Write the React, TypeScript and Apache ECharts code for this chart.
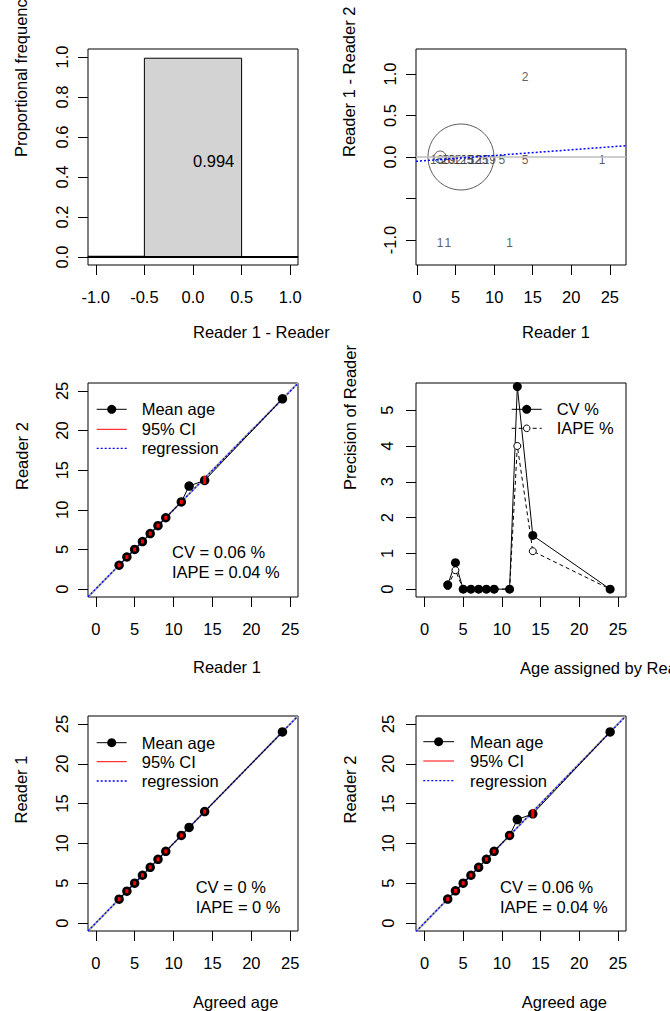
import React, { useEffect, useRef } from "react";
import * as echarts from "echarts";

const FONT = '"Liberation Sans", Arial, Helvetica, sans-serif';
const FS = 16.5;

// ---------------- data ----------------
// Histogram of Reader 1 - Reader 2 differences
const diffBinStart = [-1.5, -0.5, 0.5];
const diffBinEnd = [-0.5, 0.5, 1.5];
const diffProportion = [0.0037, 0.9939, 0.0024];

// Counts of fish by Reader 1 age and difference (Reader 1 - Reader 2)
const countAge = [3, 4, 5, 6, 7, 8, 9, 11, 14, 24, 3, 4, 12, 14];
const countDiff = [0, 0, 0, 0, 0, 0, 0, 0, 0, 0, -1, -1, -1, 1];
const countN = [168, 20, 92, 125, 152, 125, 119, 5, 5, 1, 1, 1, 1, 2];

// Circles drawn on the difference plot
const circleAge = [3, 5.7];
const circleDiff = [0, 0];
const circleSize = [12, 66];

// Regression of difference on Reader 1
const diffRegIntercept = -0.051;
const diffRegSlope = 0.0069;

// Ages and mean ages
const ages = [3, 4, 5, 6, 7, 8, 9, 11, 12, 14, 24];
const reader2Mean = [3.006, 4.048, 5, 6, 7, 8, 9, 11, 13, 13.714, 24];
const reader2CiLow = [3.0, 4.0, 5, 6, 7, 8, 9, 11, null, 13.25, null];
const reader2CiHigh = [3.012, 4.1, 5, 6, 7, 8, 9, 11, null, 14.3, null];
const reader1Mean = [3, 4, 5, 6, 7, 8, 9, 11, 12, 14, 24];
const reader1CiLow = [3, 4, 5, 6, 7, 8, 9, 11, null, 14, null];
const reader1CiHigh = [3, 4, 5, 6, 7, 8, 9, 11, null, 14, null];

// Precision by age
const cvPercent = [0.12, 0.74, 0, 0, 0, 0, 0, 0, 5.66, 1.5, 0];
const iapePercent = [0.085, 0.53, 0, 0, 0, 0, 0, 0, 4.0, 1.06, 0];

// Regressions of age plots
const reg2Intercept = 0.03;
const reg2Slope = 0.997;
const reg1Intercept = 0;
const reg1Slope = 1;

// Tick values
const histXTicks = [-1, -0.5, 0, 0.5, 1];
const histYTicks = [0, 0.2, 0.4, 0.6, 0.8, 1.0];
const ageTicks = [0, 5, 10, 15, 20, 25];
const diffYTicks = [-1, -0.5, 0, 0.5, 1];
const diffYLabels = [-1, 0, 0.5, 1];
const precTicks = [0, 1, 2, 3, 4, 5];

// Stats texts
const cvText12 = "CV = 0.06 %";
const iapeText12 = "IAPE = 0.04 %";
const cvText1A = "CV = 0 %";
const iapeText1A = "IAPE = 0 %";
const cvText2A = "CV = 0.06 %";
const iapeText2A = "IAPE = 0.04 %";

// ---------------- helpers ----------------
function xAxis(min: number, max: number, ticks: number[], labels: number[], dec: number) {
  return {
    type: "value",
    min,
    max,
    axisLine: { show: false, onZero: false },
    splitLine: { show: false },
    axisPointer: { show: false },
    axisTick: { show: true, length: 10, lineStyle: { color: "#000", width: 1 }, customValues: ticks },
    axisLabel: {
      show: true,
      customValues: labels,
      formatter: (v: number) => Number(v).toFixed(dec),
      fontFamily: FONT,
      fontSize: FS,
      color: "#000",
      margin: 23,
    },
  };
}

function yAxis(min: number, max: number, ticks: number[], labels: number[], dec: number, margin = 18) {
  return {
    type: "value",
    min,
    max,
    axisLine: { show: false, onZero: false },
    splitLine: { show: false },
    axisPointer: { show: false },
    axisTick: { show: true, length: 10, lineStyle: { color: "#000", width: 1 }, customValues: ticks },
    axisLabel: {
      show: true,
      rotate: 90,
      customValues: labels,
      formatter: (v: number) => Number(v).toFixed(dec),
      fontFamily: FONT,
      fontSize: FS,
      color: "#000",
      margin,
    },
  };
}

function txt(text: string, x: number, y: number, rot = 0, size = FS) {
  return {
    type: "text",
    x,
    y,
    rotation: rot,
    silent: true,
    style: { text, fill: "#000", fontSize: size, fontFamily: FONT, align: "left", verticalAlign: "middle" },
  };
}

function gridBox(left: number, top: number, width: number, height: number) {
  return { left, top, width, height, show: true, borderColor: "#000", borderWidth: 1, backgroundColor: "transparent" };
}

// ---------------- panel 1: histogram ----------------
function histOption() {
  const xMin = -1.08, xMax = 1.08;
  return {
    animation: false,
    grid: gridBox(88, 49, 210, 216),
    xAxis: xAxis(xMin, xMax, histXTicks, histXTicks, 1),
    yAxis: yAxis(-0.04, 1.04, histYTicks, histYTicks, 1),
    series: [
      {
        type: "custom",
        encode: { x: [0, 1], y: 2 },
        data: diffBinStart.map((s, i) => [s, diffBinEnd[i], diffProportion[i]]),
        renderItem: (params: any, api: any) => {
          const s = Math.max(api.value(0), xMin);
          const e = Math.min(api.value(1), xMax);
          const p0 = api.coord([s, 0]);
          const p1 = api.coord([e, api.value(2)]);
          const children: any[] = [
            {
              type: "rect",
              shape: { x: p0[0], y: p1[1], width: p1[0] - p0[0], height: p0[1] - p1[1] },
              style: { fill: "#D3D3D3", stroke: "#000", lineWidth: 1 },
            },
          ];
          if (api.value(2) > 0.5) {
            const c = api.coord([(api.value(0) + api.value(1)) / 2, api.value(2) * 0.485]);
            children.push({
              type: "text",
              x: c[0],
              y: c[1],
              style: {
                text: api.value(2).toFixed(3),
                fill: "#000",
                fontSize: FS,
                fontFamily: FONT,
                align: "left",
                verticalAlign: "middle",
              },
            });
          }
          return { type: "group", children };
        },
      },
      {
        type: "line",
        data: [[xMin, 0], [xMax, 0]],
        symbol: "none",
        lineStyle: { color: "#000", width: 2 },
      },
    ],
    graphic: [txt("Proportional frequency", 21, 157, Math.PI / 2), txt("Reader 1 - Reader 2", 193, 332)],
  };
}

// ---------------- panel 2: differences ----------------
function diffOption() {
  const xMin = -0.13, xMax = 27.1;
  return {
    animation: false,
    grid: gridBox(81, 49, 210, 216),
    xAxis: xAxis(xMin, xMax, ageTicks, ageTicks, 0),
    yAxis: yAxis(-1.3, 1.3, diffYTicks, diffYLabels, 1),
    series: [
      {
        type: "line",
        data: [[xMin, 0], [xMax, 0]],
        symbol: "none",
        lineStyle: { color: "#BEBEBE", width: 1.5 },
      },
      {
        type: "line",
        data: [
          [xMin, diffRegIntercept + diffRegSlope * xMin],
          [xMax, diffRegIntercept + diffRegSlope * xMax],
        ],
        symbol: "none",
        lineStyle: { color: "#0000FF", width: 1.5, type: [2, 2] },
      },
      {
        type: "scatter",
        data: circleAge.map((a, i) => [a, circleDiff[i], circleSize[i]]),
        symbolSize: (v: number[]) => v[2],
        itemStyle: { color: "rgba(0,0,0,0)", borderColor: "#333", borderWidth: 1 },
      },
      {
        type: "scatter",
        data: countAge.map((a, i) => [a, countDiff[i], countN[i]]),
        symbolSize: 1,
        itemStyle: { color: "rgba(0,0,0,0)" },
        label: {
          show: true,
          position: "inside",
          offset: [0, 3],
          formatter: (p: any) => String(p.value[2]),
          fontFamily: FONT,
          fontSize: 12,
          color: "#333",
          textBorderWidth: 0,
          textBorderColor: "transparent",
        },
      },
    ],
    graphic: [txt("Reader 1 - Reader 2", 14, 157, Math.PI / 2), txt("Reader 1", 187, 332)],
  };
}

// ---------------- age comparison panels ----------------
function ageOption(cfg: any) {
  const { left, top, height, xMin, xMax, yMean, ciLow, ciHigh, regA, regB } = cfg;
  const lg = cfg.legend;
  return {
    animation: false,
    grid: gridBox(left, top, 210, height),
    xAxis: xAxis(xMin, xMax, ageTicks, ageTicks, 0),
    yAxis: yAxis(-1, 26, ageTicks, ageTicks, 0, cfg.yLabMargin),
    series: [
      {
        type: "line",
        data: [[xMin, xMin], [xMax, xMax]],
        symbol: "none",
        lineStyle: { color: "#A8A8A8", width: 2 },
      },
      {
        type: "line",
        data: [[xMin, regA + regB * xMin], [xMax, regA + regB * xMax]],
        symbol: "none",
        lineStyle: { color: "#0000FF", width: 1.3, type: [2, 2] },
      },
      {
        type: "line",
        data: ages.map((a, i) => [a, yMean[i]]),
        symbol: "circle",
        symbolSize: 9.5,
        itemStyle: { color: "#000" },
        lineStyle: { color: "#000", width: 1 },
      },
      {
        type: "custom",
        z: 10,
        encode: { x: 0, y: [1, 2] },
        data: ages
          .map((a, i) => (ciLow[i] == null ? null : [a, ciLow[i], ciHigh[i]]))
          .filter((d: any) => d !== null),
        renderItem: (params: any, api: any) => {
          const p1 = api.coord([api.value(0), api.value(1)]);
          const p2 = api.coord([api.value(0), api.value(2)]);
          const span = Math.abs(p1[1] - p2[1]);
          const h = Math.max(span, 4);
          const y = span < 4 ? (p1[1] + p2[1]) / 2 - h / 2 : Math.min(p1[1], p2[1]);
          return {
            type: "rect",
            z2: 200,
            shape: { x: p1[0] - 1.5, y, width: 3, height: h },
            style: { fill: "#FF0000" },
          };
        },
      },
    ],
    graphic: [
      txt(cfg.ylab, cfg.ylabX, top + height / 2, Math.PI / 2),
      txt(cfg.xlab, cfg.xlabX, cfg.xlabY),
      // legend
      { type: "line", shape: { x1: lg.x1, y1: lg.y[0], x2: lg.x2, y2: lg.y[0] }, style: { stroke: "#000", lineWidth: 1 } },
      { type: "circle", shape: { cx: (lg.x1 + lg.x2) / 2, cy: lg.y[0], r: 4.5 }, style: { fill: "#000" } },
      { type: "line", shape: { x1: lg.x1, y1: lg.y[1], x2: lg.x2, y2: lg.y[1] }, style: { stroke: "#FF0000", lineWidth: 1 } },
      {
        type: "line",
        shape: { x1: lg.x1, y1: lg.y[2], x2: lg.x2, y2: lg.y[2] },
        style: { stroke: "#0000FF", lineWidth: 1.3, lineDash: [2, 2] },
      },
      txt("Mean age", lg.tx, lg.y[0]),
      txt("95% CI", lg.tx, lg.y[1]),
      txt("regression", lg.tx, lg.y[2]),
      txt(cfg.cv, cfg.statX, cfg.statY[0]),
      txt(cfg.iape, cfg.statX, cfg.statY[1]),
    ],
  };
}

// ---------------- panel 4: precision ----------------
function precOption() {
  const lx1 = 176.7, lx2 = 206.7, ly = [72.3, 91.3];
  return {
    animation: false,
    grid: gridBox(81, 46, 210, 214),
    xAxis: xAxis(-1.1, 26.05, ageTicks, ageTicks, 0),
    yAxis: yAxis(-0.22, 5.76, precTicks, precTicks, 0, 21),
    series: [
      {
        type: "line",
        data: ages.map((a, i) => [a, iapePercent[i]]),
        symbol: "circle",
        symbolSize: 7,
        itemStyle: { color: "#fff", borderColor: "#000", borderWidth: 1 },
        lineStyle: { color: "#000", width: 1, type: [4, 3] },
      },
      {
        type: "line",
        data: ages.map((a, i) => [a, cvPercent[i]]),
        symbol: "circle",
        symbolSize: 9,
        itemStyle: { color: "#000" },
        lineStyle: { color: "#000", width: 1 },
      },
    ],
    graphic: [
      txt("Precision of Reader", 15, 153, Math.PI / 2),
      txt("Age assigned by Reader 1", 185, 331),
      { type: "line", shape: { x1: lx1, y1: ly[0], x2: lx2, y2: ly[0] }, style: { stroke: "#000", lineWidth: 1 } },
      { type: "circle", shape: { cx: (lx1 + lx2) / 2, cy: ly[0], r: 4.5 }, style: { fill: "#000" } },
      {
        type: "line",
        shape: { x1: lx1, y1: ly[1], x2: lx2, y2: ly[1] },
        style: { stroke: "#000", lineWidth: 1, lineDash: [4, 3] },
      },
      { type: "circle", shape: { cx: (lx1 + lx2) / 2, cy: ly[1], r: 3.3 }, style: { fill: "#fff", stroke: "#000", lineWidth: 1 } },
      txt("CV %", 221.7, ly[0]),
      txt("IAPE %", 221.7, ly[1]),
    ],
  };
}

// ---------------- components ----------------
function Panel(props: { left: number; top: number; width: number; height: number; option: any }) {
  const ref = useRef<HTMLDivElement>(null);
  useEffect(() => {
    const chart = echarts.init(ref.current as HTMLDivElement, null, { renderer: "svg" });
    chart.setOption(props.option);
    return () => chart.dispose();
  }, []);
  return (
    <div
      ref={ref}
      style={{ position: "absolute", left: props.left, top: props.top, width: props.width, height: props.height }}
    />
  );
}

export default function App() {
  const p3 = ageOption({
    left: 88, top: 46, height: 214, xMin: -1, xMax: 26,
    yMean: reader2Mean, ciLow: reader2CiLow, ciHigh: reader2CiHigh, regA: reg2Intercept, regB: reg2Slope,
    ylab: "Reader 2", ylabX: 21.7, xlab: "Reader 1", xlabX: 193, xlabY: 329.5, yLabMargin: 18,
    legend: { x1: 96.7, x2: 126.7, tx: 141.7, y: [72.3, 92.3, 111.3] },
    cv: cvText12, iape: iapeText12, statX: 172, statY: [215.3, 234.7],
  });
  const p5 = ageOption({
    left: 88, top: 42, height: 215, xMin: -1, xMax: 26,
    yMean: reader1Mean, ciLow: reader1CiLow, ciHigh: reader1CiHigh, regA: reg1Intercept, regB: reg1Slope,
    ylab: "Reader 1", ylabX: 21, xlab: "Agreed age", xlabX: 193, xlabY: 327.7, yLabMargin: 18,
    legend: { x1: 96.7, x2: 126.7, tx: 141.7, y: [68.7, 87.7, 107] },
    cv: cvText1A, iape: iapeText1A, statX: 195.7, statY: [212.7, 232.7],
  });
  const p6 = ageOption({
    left: 81, top: 42, height: 215, xMin: -1.1, xMax: 26.05,
    yMean: reader2Mean, ciLow: reader2CiLow, ciHigh: reader2CiHigh, regA: reg2Intercept, regB: reg2Slope,
    ylab: "Reader 2", ylabX: 15, xlab: "Agreed age", xlabX: 186.7, xlabY: 327.7, yLabMargin: 20,
    legend: { x1: 88.3, x2: 119, tx: 135, y: [67.7, 87, 106.7] },
    cv: cvText2A, iape: iapeText2A, statX: 165, statY: [212.7, 232.7],
  });
  return (
    <div style={{ position: "absolute", left: 0, top: 0, width: 670, height: 1011, background: "#fff", overflow: "hidden" }}>
      <Panel left={0} top={0} width={335} height={341} option={histOption()} />
      <Panel left={335} top={0} width={335} height={341} option={diffOption()} />
      <Panel left={0} top={337} width={335} height={343} option={p3} />
      <Panel left={335} top={337} width={335} height={343} option={precOption()} />
      <Panel left={0} top={674} width={335} height={337} option={p5} />
      <Panel left={335} top={674} width={335} height={337} option={p6} />
    </div>
  );
}
